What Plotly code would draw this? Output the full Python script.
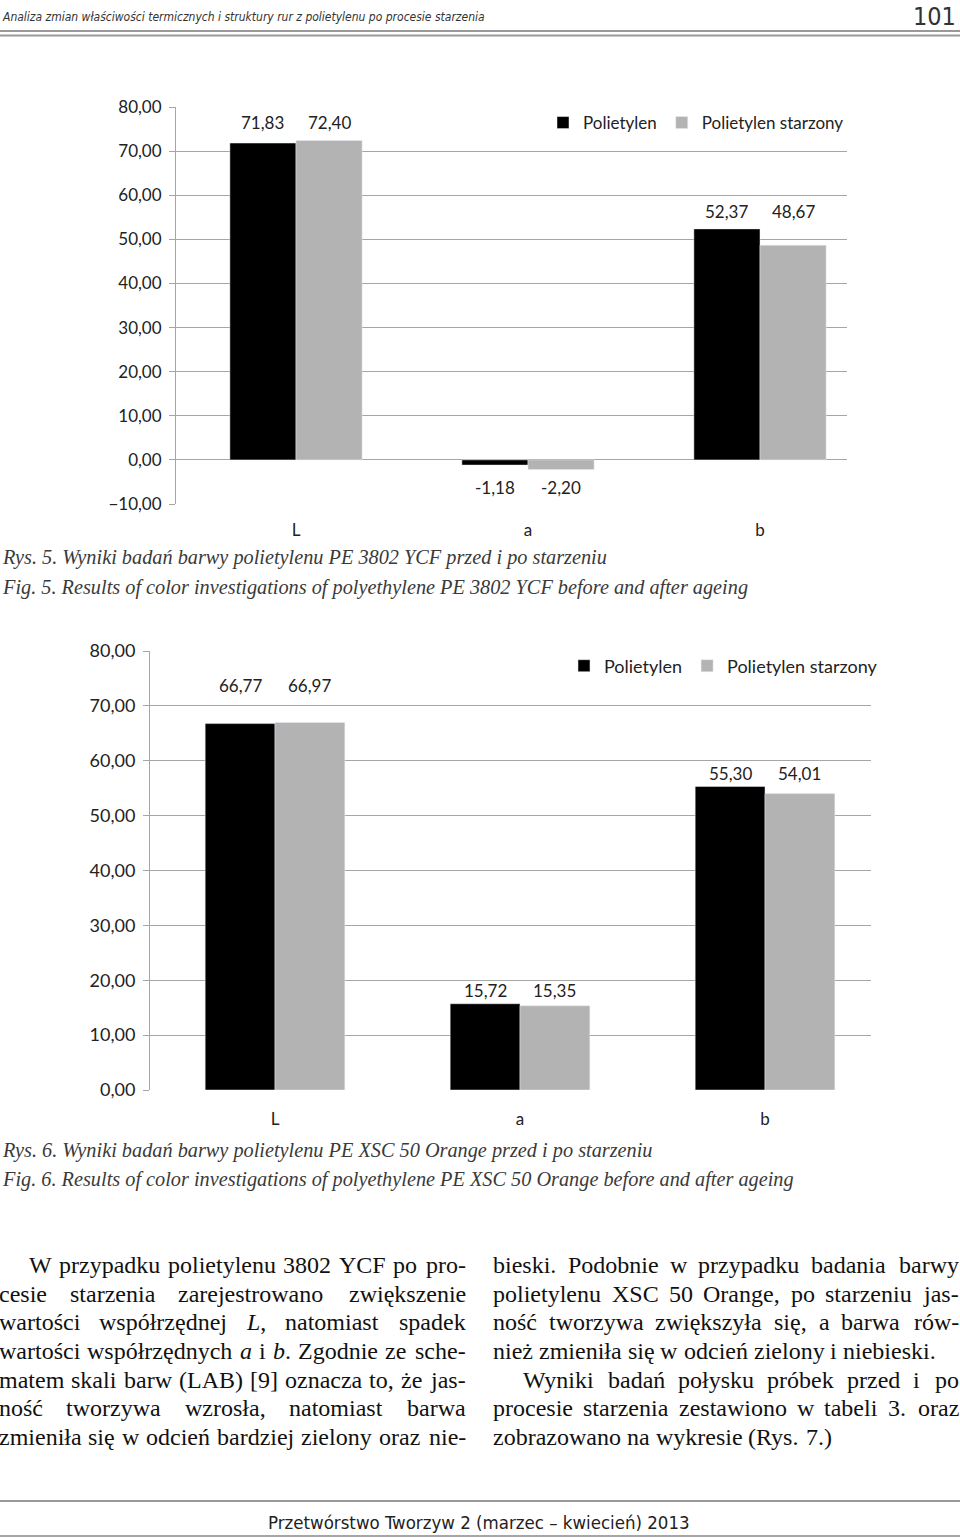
import plotly.graph_objects as go

# ---------------- data ----------------
categories = ["L", "a", "b"]
series_names = ["Polietylen", "Polietylen starzony"]

fig5_polietylen = [71.83, -1.18, 52.37]
fig5_starzony = [72.40, -2.20, 48.67]

fig6_polietylen = [66.77, 15.72, 55.30]
fig6_starzony = [66.97, 15.35, 54.01]

fig5_yticks = [-10, 0, 10, 20, 30, 40, 50, 60, 70, 80]
fig6_yticks = [0, 10, 20, 30, 40, 50, 60, 70, 80]

header_text = "Analiza zmian właściwości termicznych i struktury rur z polietylenu po procesie starzenia"
page_number = "101"
caption5 = ["Rys. 5. Wyniki badań barwy polietylenu PE 3802 YCF przed i po starzeniu",
            "Fig. 5. Results of color investigations of polyethylene PE 3802 YCF before and after ageing"]
caption6 = ["Rys. 6. Wyniki badań barwy polietylenu PE XSC 50 Orange przed i po starzeniu",
            "Fig. 6. Results of color investigations of polyethylene PE XSC 50 Orange before and after ageing"]
# words wrapped in *...* are italic
col1_lines = [
    "W przypadku polietylenu 3802 YCF po pro-",
    "cesie starzenia zarejestrowano zwiększenie",
    "wartości współrzędnej *L*, natomiast spadek",
    "wartości współrzędnych *a* i *b*. Zgodnie ze sche-",
    "matem skali barw (LAB) [9] oznacza to, że jas-",
    "ność tworzywa wzrosła, natomiast barwa",
    "zmieniła się w odcień bardziej zielony oraz nie-",
]
col2_lines = [
    "bieski. Podobnie w przypadku badania barwy",
    "polietylenu XSC 50 Orange, po starzeniu jas-",
    "ność tworzywa zwiększyła się, a barwa rów-",
    "nież zmieniła się w odcień zielony i niebieski.",
    "Wyniki badań połysku próbek przed i po",
    "procesie starzenia zestawiono w tabeli 3. oraz",
    "zobrazowano na wykresie (Rys. 7.)",
]
footer_text = "Przetwórstwo Tworzyw 2 (marzec – kwiecień) 2013"

# ---------------- layout helpers ----------------
W, H = 960, 1538
def px(x):
    return x / W
def py(y):
    return 1 - y / H

BLACK = "#000000"
GREY = "#b3b3b3"
GRID = "#a6a6a6"
CHART_FONT = "Lato, Carlito, sans-serif"
SERIF = "Liberation Serif, Times New Roman, serif"
COND = "DejaVu Sans Condensed, Liberation Sans Narrow, sans-serif"

fmt = lambda v: f"{v:.2f}".replace(".", ",")

fig = go.Figure()

fig.add_trace(go.Bar(x=categories, y=fig5_polietylen, name=series_names[0], marker_color=BLACK,
                     xaxis="x", yaxis="y", legend="legend"))
fig.add_trace(go.Bar(x=categories, y=fig5_starzony, name=series_names[1], marker_color=GREY,
                     xaxis="x", yaxis="y", legend="legend"))
fig.add_trace(go.Bar(x=categories, y=fig6_polietylen, name=series_names[0], marker_color=BLACK,
                     xaxis="x2", yaxis="y2", legend="legend2"))
fig.add_trace(go.Bar(x=categories, y=fig6_starzony, name=series_names[1], marker_color=GREY,
                     xaxis="x2", yaxis="y2", legend="legend2"))

BARGAP = 0.43
half = (1 - BARGAP) / 4  # offset of each bar centre from the category centre

axis_common = dict(showgrid=True, gridcolor=GRID, gridwidth=1, showline=True, linecolor=GRID,
                   linewidth=1, ticks="outside", ticklen=6, tickcolor=GRID, tickformat=".2f",
                   zeroline=False, fixedrange=True, automargin=False)

fig.update_layout(
    width=W, height=H, autosize=False,
    margin=dict(l=0, r=0, t=0, b=0, pad=0, autoexpand=False),
    paper_bgcolor="white", plot_bgcolor="white",
    separators=", ",
    barmode="group", bargap=BARGAP, bargroupgap=0,
    font=dict(family=CHART_FONT, color="#222222"),
    xaxis=dict(domain=[px(176), px(847)], anchor="y", type="category", automargin=False,
               range=[(176 - 296) / 232, (847 - 296) / 232], showline=False, showgrid=False,
               ticks="", tickfont=dict(size=17, family=CHART_FONT, color="#222"), ticklabelstandoff=14),
    yaxis=dict(domain=[py(504), py(107)], anchor="x", range=[-10, 80], tickvals=fig5_yticks,
               tickfont=dict(size=17, family=CHART_FONT, color="#222"), ticklabelstandoff=4,
               **axis_common),
    xaxis2=dict(domain=[px(150), px(871)], anchor="y2", type="category", automargin=False,
                range=[(150 - 275) / 245, (871 - 275) / 245], showline=False, showgrid=False,
                ticks="", tickfont=dict(size=17, family=CHART_FONT, color="#222"), ticklabelstandoff=17),
    yaxis2=dict(domain=[py(1090), py(651)], anchor="x2", range=[0, 80], tickvals=fig6_yticks,
                tickfont=dict(size=18, family=CHART_FONT, color="#222"), ticklabelstandoff=4,
                **axis_common),
    legend=dict(orientation="h", x=px(543), xanchor="left", y=py(123), yanchor="middle",
                font=dict(size=17, family=CHART_FONT, color="#222"), bgcolor="rgba(0,0,0,0)",
                itemwidth=30, traceorder="normal"),
    legend2=dict(orientation="h", x=px(564), xanchor="left", y=py(666), yanchor="middle",
                 font=dict(size=18, family=CHART_FONT, color="#222"), bgcolor="rgba(0,0,0,0)",
                 itemwidth=30, traceorder="normal"),
)

annotations = []

def add_labels(xref, yref, s1, s2, shifts, size):
    for i in range(len(categories)):
        v1, v2 = s1[i], s2[i]
        neg = max(v1, v2) < 0
        anchor_val = min(v1, v2) if neg else max(v1, v2)
        for v, off in ((v1, -half), (v2, half)):
            annotations.append(dict(
                x=i + off, y=anchor_val, xref=xref, yref=yref, text=fmt(v), showarrow=False,
                yanchor="top" if neg else "bottom", yshift=shifts[i],
                font=dict(size=size, family=CHART_FONT, color="#222")))

add_labels("x", "y", fig5_polietylen, fig5_starzony, [6, -5, 5], 17)
add_labels("x2", "y2", fig6_polietylen, fig6_starzony, [25, 1, 1], 17)

def text(x, y, s, size, family, color="#222", xanchor="left", italic=False):
    annotations.append(dict(x=px(x), y=py(y), xref="paper", yref="paper", text=s, showarrow=False,
                            xanchor=xanchor, yanchor="middle",
                            font=dict(size=size, family=family, color=color,
                                      style="italic" if italic else "normal")))

# header / page number
text(0, 17, header_text, 12, COND, color="#333", italic=True)
text(958, 16, page_number, 25, COND, color="#333", xanchor="right")

# figure captions
CAP = 20.3
text(0, 558, caption5[0], CAP, SERIF, color="#3a3a3a", italic=True)
text(0, 587, caption5[1], CAP, SERIF, color="#3a3a3a", italic=True)
text(0, 1150, caption6[0], CAP, SERIF, color="#3a3a3a", italic=True)
text(0, 1179, caption6[1], CAP, SERIF, color="#3a3a3a", italic=True)

# ---------------- justified body text (Times-metric width estimate) ----------------
TW = {' ': 250, ',': 250, '.': 250, '-': 333, '(': 333, ')': 333, '[': 333, ']': 333}
for ch in "0123456789":
    TW[ch] = 500
TW.update(dict(A=722, B=667, C=667, D=722, E=611, F=556, G=722, H=722, I=333, J=389, K=722, L=611,
               M=889, N=722, O=722, P=556, Q=722, R=667, S=556, T=611, U=722, V=722, W=944, X=722,
               Y=722, Z=611))
TW.update(dict(a=444, b=500, c=444, d=500, e=444, f=333, g=500, h=500, i=278, j=278, k=500, l=278,
               m=778, n=500, o=500, p=500, q=500, r=333, s=389, t=278, u=500, v=500, w=722, x=500,
               y=500, z=444))
BASE = {'ą': 'a', 'ć': 'c', 'ę': 'e', 'ł': 'l', 'ń': 'n', 'ó': 'o', 'ś': 's', 'ź': 'z', 'ż': 'z'}
ITALIC_W = {'L': 556, 'a': 500, 'b': 500}

def word_width(w, size):
    italic = w.startswith("*")
    core = w.replace("*", "")
    tot = 0
    for ch in core:
        if italic and ch in ITALIC_W:
            tot += ITALIC_W[ch]
        else:
            tot += TW.get(BASE.get(ch, ch), 500)
    return tot * size / 1000.0

def word_markup(w):
    parts = w.split("*")
    out = ""
    for k, p in enumerate(parts):
        out += f"<i>{p}</i>" if k % 2 == 1 else p
    return out

BODY = 24
PAD = 3  # annotation inner padding

def place_line(s, x0, x1, y, justify):
    words = s.split(" ")
    widths = [word_width(w, BODY) for w in words]
    if justify and len(words) > 1:
        gap = (x1 - x0 - sum(widths)) / (len(words) - 1)
    else:
        gap = TW[' '] * BODY / 1000.0
    xcur = x0
    for k, w in enumerate(words):
        last = justify and k == len(words) - 1 and len(words) > 1
        annotations.append(dict(
            x=px(x1 + PAD if last else xcur - PAD), y=py(y), xref="paper", yref="paper",
            text=word_markup(w), showarrow=False, xanchor="right" if last else "left",
            yanchor="middle", font=dict(size=BODY, family=SERIF, color="#111")))
        xcur += widths[k] + gap

line_y = [1265, 1294, 1322, 1351, 1380, 1408, 1437]
for k, s in enumerate(col1_lines):
    place_line(s, 30 if k == 0 else 0, 465, line_y[k], True)
for k, s in enumerate(col2_lines):
    place_line(s, 524 if k == 4 else 494, 958, line_y[k], k not in (3, 6))

# footer
text(479, 1522, footer_text, 18.5, COND, color="#222", xanchor="center")

fig.update_layout(annotations=annotations)

line_style = dict(color="#999999", width=2)
fig.update_layout(shapes=[
    dict(type="line", xref="paper", yref="paper", x0=0, x1=1, y0=py(31), y1=py(31), line=line_style),
    dict(type="line", xref="paper", yref="paper", x0=0, x1=1, y0=py(35.5), y1=py(35.5), line=line_style),
    dict(type="line", xref="paper", yref="paper", x0=0, x1=1, y0=py(1501), y1=py(1501),
         line=dict(color="#777777", width=1.5)),
    dict(type="line", xref="paper", yref="paper", x0=0, x1=1, y0=py(1536), y1=py(1536),
         line=dict(color="#888888", width=1.5)),
])

fig.write_html("out.html", post_script="document.body.style.margin='0';",
               config={"displayModeBar": False})
